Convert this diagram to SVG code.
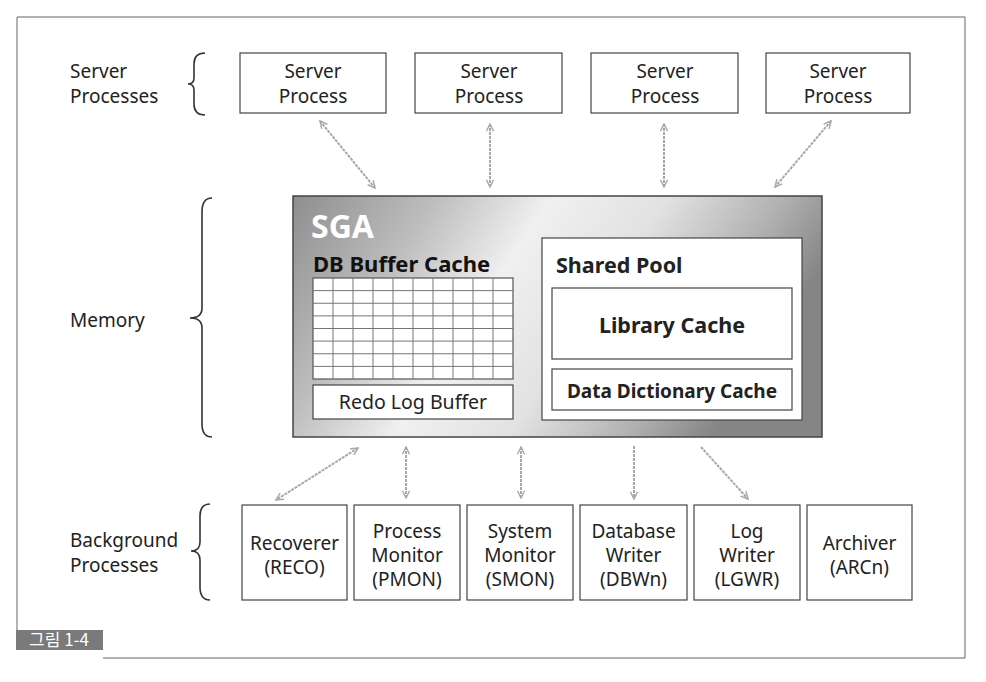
<svg xmlns="http://www.w3.org/2000/svg" width="986" height="682" viewBox="0 0 986 682">
<defs>
<linearGradient id="sga" x1="0" y1="0" x2="1" y2="0.3">
<stop offset="0" stop-color="#8e8e8e"/>
<stop offset="0.25" stop-color="#bdbdbd"/>
<stop offset="0.45" stop-color="#f0f0f0"/>
<stop offset="0.65" stop-color="#e2e2e2"/>
<stop offset="0.85" stop-color="#b2b2b2"/>
<stop offset="1" stop-color="#858585"/>
</linearGradient>
<marker id="ah" viewBox="0 0 10 10" refX="9" refY="5" markerWidth="9" markerHeight="9" orient="auto-start-reverse" markerUnits="userSpaceOnUse">
<path d="M1,1 L9,5 L1,9" fill="none" stroke="#a8a8a8" stroke-width="1.6"/>
</marker>
</defs>
<style>
text{font-family:"Noto Sans","Open Sans","Liberation Sans",sans-serif;fill:#222}
.lbl{font-size:19px}
.box{fill:#fff;stroke:#444;stroke-width:1.2}
.bold{font-weight:bold}
.mid{text-anchor:middle}
.brace{fill:none;stroke:#333;stroke-width:1.6}
.conn{stroke:#a8a8a8;stroke-width:2;stroke-dasharray:3 1;fill:none}
</style>
<rect x="0" y="0" width="986" height="682" fill="#fff"/>
<path d="M17,632 V17 H965 V658 H103" fill="none" stroke="#666" stroke-width="1"/>
<g id="fig-label">
<rect x="16" y="630" width="87" height="20" fill="#7a7a7a"/>
<text x="59" y="646" class="mid" style="font-size:17px;fill:#fff;font-family:'Noto Sans CJK KR','Noto Sans',sans-serif">그림 1-4</text>
</g>
<g id="label-server">
<text x="70" y="78" class="lbl">Server</text>
<text x="70" y="103" class="lbl">Processes</text>
<path class="brace" d="M205,53 Q194,53 194,64 V78 Q194,84 188,84 Q194,84 194,90 V104 Q194,115 205,115"/>
</g>
<g id="label-memory">
<text x="70" y="327" class="lbl">Memory</text>
<path class="brace" d="M212,198 Q202,198 202,212 V308 Q202,318 190,318 Q202,318 202,328 V424 Q202,437 212,437"/>
</g>
<g id="label-bg">
<text x="70" y="547" class="lbl">Background</text>
<text x="70" y="572" class="lbl">Processes</text>
<path class="brace" d="M210,504 Q200,504 200,516 V542 Q200,551 191,551 Q200,551 200,560 V587 Q200,600 210,600"/>
</g>
<g id="sp1"><rect class="box" x="240" y="53" width="146" height="60"/><text x="313" y="78" class="lbl mid">Server</text><text x="313" y="103" class="lbl mid">Process</text></g>
<g id="sp2"><rect class="box" x="415" y="53" width="147" height="60"/><text x="489" y="78" class="lbl mid">Server</text><text x="489" y="103" class="lbl mid">Process</text></g>
<g id="sp3"><rect class="box" x="591" y="53" width="147" height="60"/><text x="665" y="78" class="lbl mid">Server</text><text x="665" y="103" class="lbl mid">Process</text></g>
<g id="sp4"><rect class="box" x="766" y="53" width="144" height="60"/><text x="838" y="78" class="lbl mid">Server</text><text x="838" y="103" class="lbl mid">Process</text></g>
<g id="sga">
<rect x="293" y="196" width="529" height="241" fill="url(#sga)" stroke="#444" stroke-width="1.5"/>
<text x="311" y="238" style="font-size:32px;font-weight:bold;fill:#fff">SGA</text>
</g>
<g id="db-buffer-cache">
<text x="313" y="272" class="bold" style="font-size:22px;fill:#111">DB Buffer Cache</text>
<rect x="313" y="278" width="200" height="101" fill="#fff" stroke="#555" stroke-width="1.2"/>
<path d="M333,278V379M353,278V379M373,278V379M393,278V379M413,278V379M433,278V379M453,278V379M473,278V379M493,278V379M313,290.6H513M313,303.25H513M313,315.9H513M313,328.5H513M313,341.1H513M313,353.75H513M313,366.4H513" stroke="#777" stroke-width="1" fill="none"/>
</g>
<g id="redo-log-buffer"><rect class="box" x="313" y="385" width="200" height="34"/><text x="413" y="409" class="mid" style="font-size:19.5px">Redo Log Buffer</text></g>
<g id="shared-pool"><rect class="box" x="542" y="238" width="260" height="182"/><text x="556" y="273" class="bold" style="font-size:21.5px">Shared Pool</text></g>
<g id="library-cache"><rect class="box" x="552" y="288" width="240" height="71"/><text x="672" y="333" class="mid bold" style="font-size:21.5px">Library Cache</text></g>
<g id="data-dictionary-cache"><rect class="box" x="552" y="369" width="240" height="41"/><text x="672" y="398" class="mid bold" style="font-size:19px">Data Dictionary Cache</text></g>
<g id="reco"><rect class="box" x="242" y="505" width="105" height="95"/><text x="294.5" y="550" class="lbl mid">Recoverer</text><text x="294.5" y="574" class="lbl mid">(RECO)</text></g>
<g id="pmon"><rect class="box" x="354" y="505" width="106" height="95"/><text x="407" y="538" class="lbl mid">Process</text><text x="407" y="562" class="lbl mid">Monitor</text><text x="407" y="586" class="lbl mid">(PMON)</text></g>
<g id="smon"><rect class="box" x="467" y="505" width="106" height="95"/><text x="520" y="538" class="lbl mid">System</text><text x="520" y="562" class="lbl mid">Monitor</text><text x="520" y="586" class="lbl mid">(SMON)</text></g>
<g id="dbwn"><rect class="box" x="580" y="505" width="107" height="95"/><text x="633.5" y="538" class="lbl mid">Database</text><text x="633.5" y="562" class="lbl mid">Writer</text><text x="633.5" y="586" class="lbl mid">(DBWn)</text></g>
<g id="lgwr"><rect class="box" x="694" y="505" width="106" height="95"/><text x="747" y="538" class="lbl mid">Log</text><text x="747" y="562" class="lbl mid">Writer</text><text x="747" y="586" class="lbl mid">(LGWR)</text></g>
<g id="arcn"><rect class="box" x="807" y="505" width="105" height="95"/><text x="859.5" y="550" class="lbl mid">Archiver</text><text x="859.5" y="574" class="lbl mid">(ARCn)</text></g>
<g id="connectors">
<line class="conn" x1="320" y1="121" x2="375" y2="188" marker-start="url(#ah)" marker-end="url(#ah)"/>
<line class="conn" x1="490" y1="124" x2="490" y2="187" marker-start="url(#ah)" marker-end="url(#ah)"/>
<line class="conn" x1="664" y1="124" x2="664" y2="187" marker-start="url(#ah)" marker-end="url(#ah)"/>
<line class="conn" x1="831" y1="121" x2="775" y2="187" marker-start="url(#ah)" marker-end="url(#ah)"/>
<line class="conn" x1="358" y1="448" x2="276" y2="500" marker-start="url(#ah)" marker-end="url(#ah)"/>
<line class="conn" x1="406" y1="447" x2="406" y2="498" marker-start="url(#ah)" marker-end="url(#ah)"/>
<line class="conn" x1="521" y1="447" x2="521" y2="498" marker-start="url(#ah)" marker-end="url(#ah)"/>
<line class="conn" x1="634" y1="446" x2="634" y2="499" marker-end="url(#ah)"/>
<line class="conn" x1="701" y1="447" x2="748" y2="499" marker-end="url(#ah)"/>
</g>
</svg>
